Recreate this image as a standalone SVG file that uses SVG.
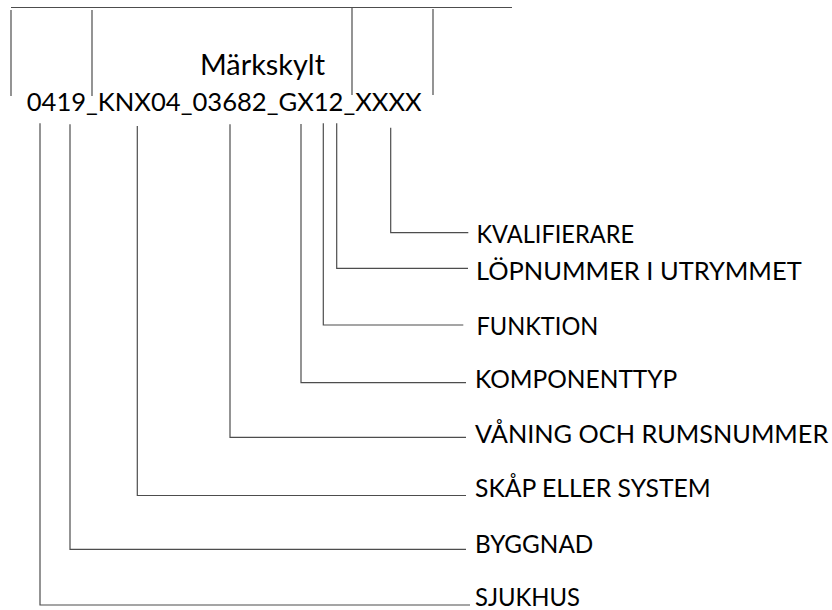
<svg xmlns="http://www.w3.org/2000/svg" width="832" height="610" viewBox="0 0 832 610">
  <style>
    .ln { fill: none; stroke: #4d4d4d; stroke-width: 1.2; }
    .code { font-family: Lato, "Liberation Sans", sans-serif; font-size: 25.5px; fill: #000; }
    .title { font-family: Lato, "Liberation Sans", sans-serif; font-size: 28px; fill: #000; }
    .lbl { font-family: Lato, "Liberation Sans", sans-serif; font-size: 24.5px; fill: #000; }
  </style>
  <rect width="832" height="610" fill="#fff"/>

  <g id="plate">
    <path class="ln" d="M11 7.5 H512 M11 10 V96 M92 10 V96 M352 8 V95 M433 9 V95"/>
    <text class="title" x="200" y="75" textLength="125" lengthAdjust="spacingAndGlyphs">Märkskylt</text>
    <text class="code" x="26.7" y="111" textLength="395" lengthAdjust="spacingAndGlyphs">0419_KNX04_03682_GX12_XXXX</text>
  </g>

  <g id="connectors">
    <polyline class="ln" points="390.7,127.7 390.7,232.7 468.3,232.7"/>
    <polyline class="ln" points="336.7,123.3 336.7,268.3 468,268.3"/>
    <polyline class="ln" points="323.3,123.3 323.3,325 463.3,325"/>
    <polyline class="ln" points="301,124 301,382.7 466,382.7"/>
    <polyline class="ln" points="230,124.3 230,437.3 466,437.3"/>
    <polyline class="ln" points="137.3,126 137.3,495.5 466,495.5"/>
    <polyline class="ln" points="70,124.3 70,549.3 466,549.3"/>
    <polyline class="ln" points="40,123.3 40,605 470,605"/>
  </g>

  <g id="kvalifierare"><text class="lbl" x="476.5" y="243" textLength="157.5" lengthAdjust="spacingAndGlyphs">KVALIFIERARE</text></g>
  <g id="lopnummer"><text class="lbl" x="476" y="280" textLength="325.7" lengthAdjust="spacingAndGlyphs">LÖPNUMMER I UTRYMMET</text></g>
  <g id="funktion"><text class="lbl" x="476.5" y="335" textLength="121.8" lengthAdjust="spacingAndGlyphs">FUNKTION</text></g>
  <g id="komponenttyp"><text class="lbl" x="475" y="388.3" textLength="202.3" lengthAdjust="spacingAndGlyphs">KOMPONENTTYP</text></g>
  <g id="vaning"><text class="lbl" x="475" y="442.7" textLength="353.3" lengthAdjust="spacingAndGlyphs">VÅNING OCH RUMSNUMMER</text></g>
  <g id="skap"><text class="lbl" x="475" y="496.7" textLength="235.7" lengthAdjust="spacingAndGlyphs">SKÅP ELLER SYSTEM</text></g>
  <g id="byggnad"><text class="lbl" x="475" y="552.7" textLength="118.3" lengthAdjust="spacingAndGlyphs">BYGGNAD</text></g>
  <g id="sjukhus"><text class="lbl" x="475" y="605.5" textLength="105" lengthAdjust="spacingAndGlyphs">SJUKHUS</text></g>
</svg>
